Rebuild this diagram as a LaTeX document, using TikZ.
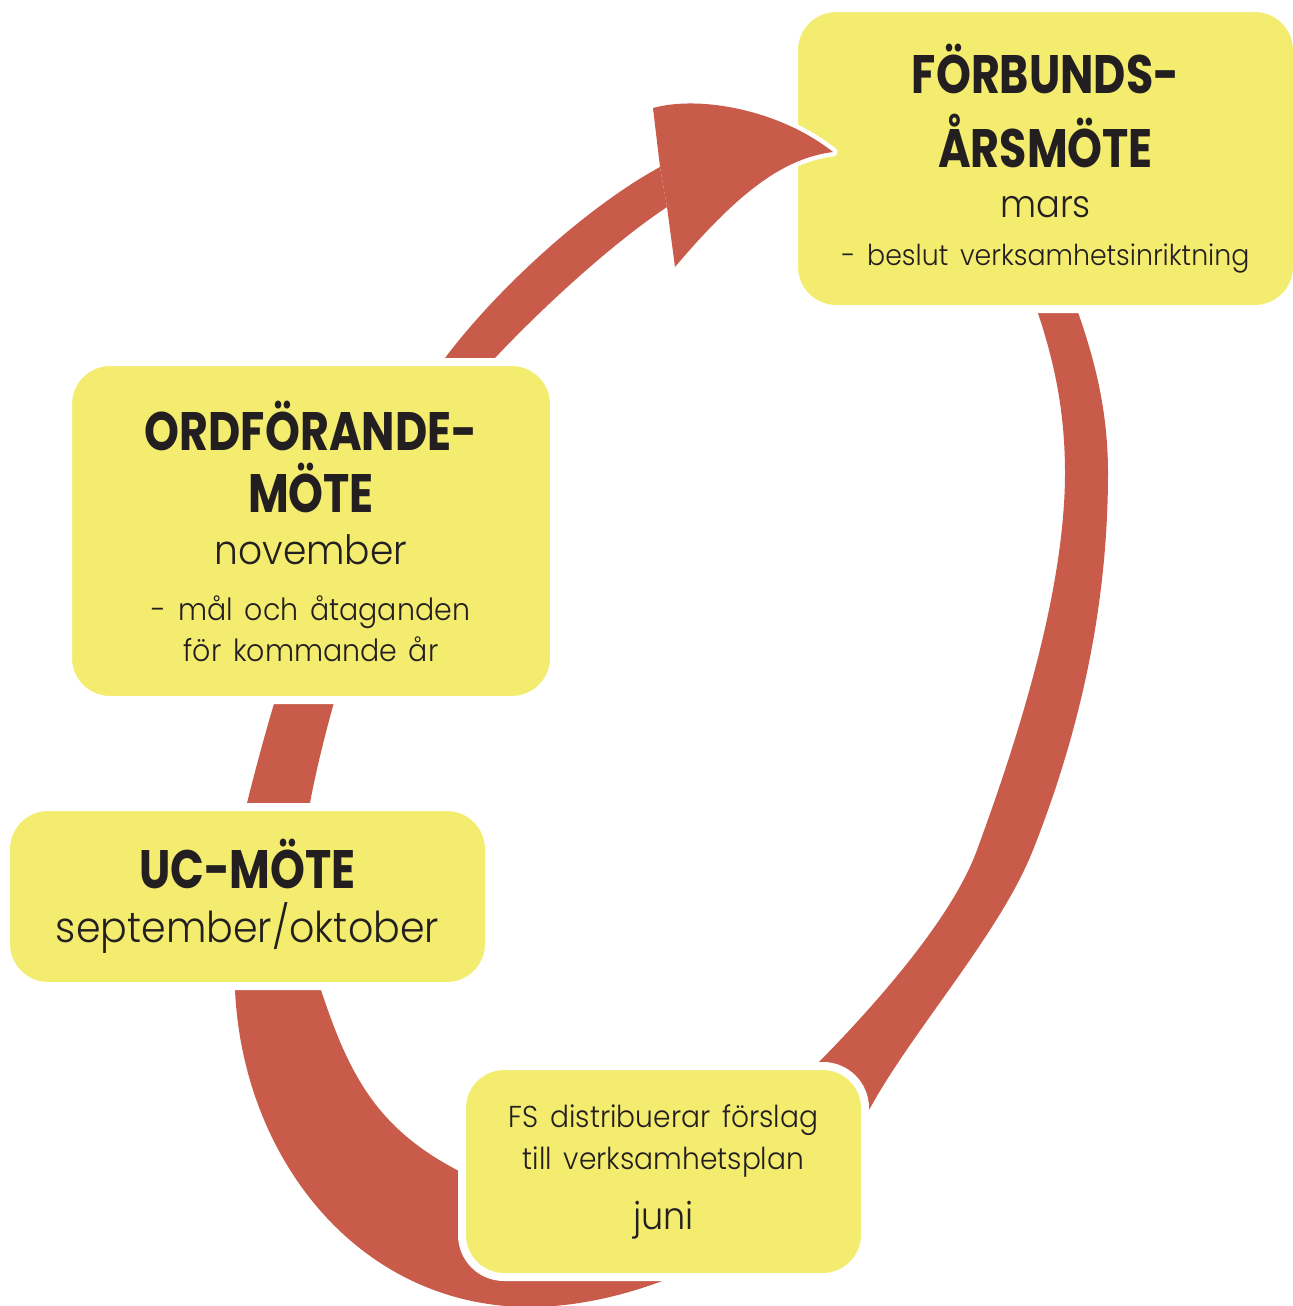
\documentclass[tikz,border=0pt]{standalone}
\usepackage{fontspec}
\setmainfont{Poppins}[UprightFont=* Light, BoldFont=* Bold, FakeStretch=0.93]
\newfontfamily\headfont{Poppins}[UprightFont=* Bold, FakeStretch=0.82]
\usepackage{xcolor}
\usepackage{tikz}
\usetikzlibrary{positioning, calc}

\definecolor{boxyellow}{RGB}{243,236,111}
\definecolor{bandred}{RGB}{201,91,74}
\definecolor{textdark}{RGB}{35,31,32}

\newcommand{\boxtitle}[1]{{\headfont\fontsize{15.4pt}{17.6pt}\selectfont #1\par}}
\newcommand{\boxline}[3]{{\fontsize{#1}{#2}\selectfont #3\par}}

\begin{document}
\begin{tikzpicture}[
    x=0.1mm, y=-0.1mm,
    box/.style={rectangle, fill=boxyellow, draw=white, line width=0.8mm, rounded corners=4.2mm, inner sep=0pt, align=center, text=textdark},
    band/.style={fill=bandred},
    headline/.style={draw=white, line width=0.9mm, line join=round}
]
\useasboundingbox (0,0) rectangle (1293,1306);

% the loop, drawn under the boxes
\fill[band] (660,167) .. controls (590,205) and (500,285) .. (445,358)
    .. controls (337,502) and (291,628) .. (247,803)
    .. controls (235.5,850) and (233,930) .. (235,990)
    .. controls (243,1160) and (360,1307) .. (530,1307)
    .. controls (640,1307) and (800,1240) .. (868,1112)
    .. controls (910,1033) and (1000,934) .. (1033,850)
    .. controls (1081,729) and (1108,603) .. (1108,473)
    .. controls (1108,400) and (1090,340) .. (1062,270)
    -- (1022,270)
    .. controls (1050,340) and (1065,400) .. (1065,473)
    .. controls (1065,600) and (1010,760) .. (977,850)
    .. controls (953,916) and (880,1000) .. (818,1063)
    .. controls (760,1125) and (560,1225) .. (457,1170)
    .. controls (377,1128) and (349,1075) .. (321,990)
    .. controls (300,930) and (300,860) .. (310,803)
    .. controls (332,685) and (405,453) .. (495,358)
    .. controls (540,310) and (610,245) .. (667,207)
    -- cycle;

\node[box, minimum width=50.3mm, minimum height=30.1mm, text width=47mm] (forbund) at (1045.5,158.5)
    {\vspace*{3.4pt}\boxtitle{FÖRBUNDS-\\ÅRSMÖTE}\boxline{10.8pt}{14.2pt}{mars}\boxline{8.2pt}{13.7pt}{- beslut verksamhetsinriktning}};
\node[box, minimum width=48.6mm, minimum height=33.8mm, text width=45mm] (ordforande) at (311,531)
    {\boxtitle{ORDFÖRANDE-\\MÖTE}\boxline{11.5pt}{14.8pt}{november}\vspace{4.8pt}\boxline{8.7pt}{11.4pt}{- mål och åtaganden\\för kommande år}};
\node[box, minimum width=48.3mm, minimum height=17.9mm, text width=45mm] (ucmote) at (247.5,896.5)
    {\boxtitle{UC-MÖTE}\boxline{12.1pt}{15.4pt}{september/oktober}};
\node[box, minimum width=40.3mm, minimum height=21.1mm, text width=37mm] (juni) at (663.5,1171.5)
    {\boxline{8.6pt}{12pt}{FS distribuerar förslag\\till verksamhetsplan}\boxline{10.7pt}{17pt}{juni}};

% arrow head on top of the box
\draw[headline] (653,108) .. controls (700,95) and (780,110) .. (833,152) .. controls (785,158) and (740,190) .. (675,267);
\fill[band] (660,167) -- (653,108) .. controls (700,95) and (780,110) .. (833,152) .. controls (785,158) and (740,190) .. (675,267) -- (667,207) -- cycle;

\end{tikzpicture}
\end{document}
